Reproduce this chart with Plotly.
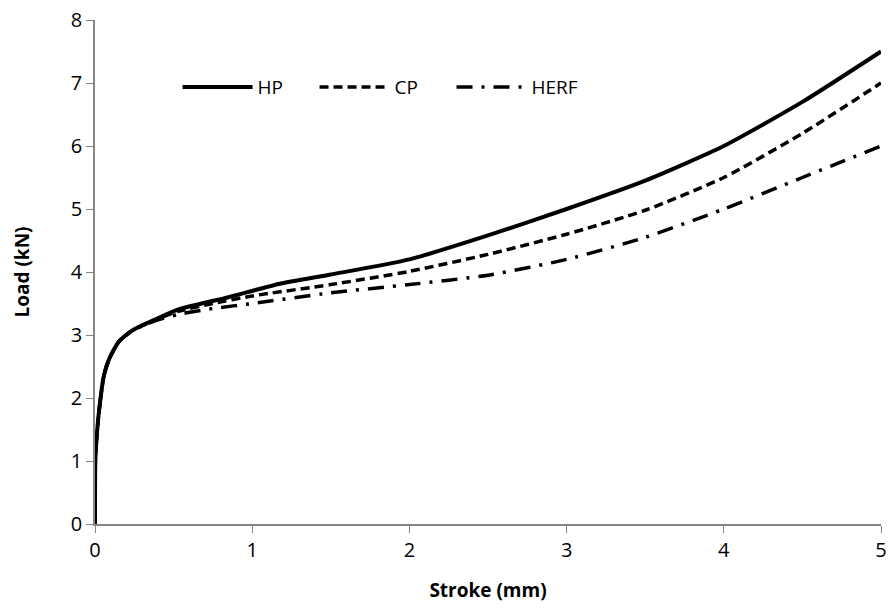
import plotly.graph_objects as go

# Load–stroke curves for three specimen types
hp_stroke = [0, 0.002, 0.01, 0.025, 0.057, 0.09, 0.15, 0.236, 0.386, 0.535, 0.85, 1.17, 1.5, 2.0, 2.5, 3.0, 3.5, 4.0, 4.5, 5.0]
hp_load = [0, 1.0, 1.36, 1.78, 2.36, 2.62, 2.89, 3.07, 3.25, 3.41, 3.6, 3.81, 3.96, 4.2, 4.58, 5.0, 5.45, 6.0, 6.7, 7.5]

cp_stroke = [0, 0.002, 0.01, 0.025, 0.057, 0.09, 0.15, 0.236, 0.386, 0.535, 0.75, 1.0, 1.5, 2.0, 2.5, 3.0, 3.5, 4.0, 4.5, 5.0]
cp_load = [0, 1.0, 1.36, 1.78, 2.36, 2.62, 2.89, 3.07, 3.24, 3.38, 3.5, 3.62, 3.8, 4.01, 4.28, 4.6, 4.98, 5.5, 6.2, 7.0]

herf_stroke = [0, 0.002, 0.01, 0.025, 0.057, 0.09, 0.15, 0.236, 0.386, 0.535, 0.75, 1.0, 1.5, 2.0, 2.5, 3.0, 3.5, 4.0, 4.5, 5.0]
herf_load = [0, 1.0, 1.36, 1.78, 2.36, 2.62, 2.89, 3.07, 3.23, 3.33, 3.42, 3.5, 3.67, 3.8, 3.95, 4.2, 4.55, 5.0, 5.5, 6.0]

series = [
    ("HP", hp_stroke, hp_load, "solid", 4),
    ("CP", cp_stroke, cp_load, "9px,5px", 3.5),
    ("HERF", herf_stroke, herf_load, "16px,9px,3px,9px", 3.5),
]

fig = go.Figure()
for name, xs, ys, dash, w in series:
    fig.add_trace(go.Scatter(
        x=xs, y=ys, name=name, mode="lines",
        line=dict(color="black", width=w, dash=dash, shape="spline", smoothing=0.6),
    ))

base_font = dict(family="Open Sans, Liberation Sans, sans-serif", size=20, color="black")
fig.update_layout(
    width=889, height=608,
    margin=dict(l=95, r=8, t=20, b=84),
    paper_bgcolor="white", plot_bgcolor="white",
    font=base_font,
    showlegend=True,
    legend=dict(
        orientation="h", x=0.105, y=0.867, xanchor="left", yanchor="middle",
        bgcolor="rgba(0,0,0,0)", itemwidth=70, font=dict(size=19),
        entrywidth=52, entrywidthmode="pixels",
    ),
    xaxis=dict(
        range=[0, 5], dtick=1, showgrid=False, zeroline=False, automargin=False,
        showline=True, linecolor="#868686", linewidth=1.5,
        ticks="outside", ticklen=7, tickcolor="#868686",
        tickfont=dict(size=20),
        title=dict(text="<b>Stroke (mm)</b>", font=dict(size=19), standoff=22),
    ),
    yaxis=dict(
        range=[0, 8], dtick=1, showgrid=False, zeroline=False, automargin=False,
        showline=True, linecolor="#868686", linewidth=1.5,
        ticks="outside", ticklen=7, tickcolor="#868686",
        tickfont=dict(size=20),
        title=dict(text="<b>Load (kN)</b>", font=dict(size=19), standoff=36),
    ),
)

fig.write_html("out.html")
